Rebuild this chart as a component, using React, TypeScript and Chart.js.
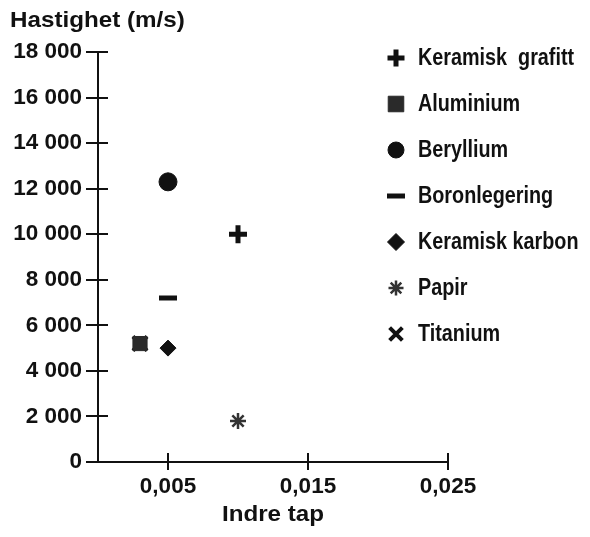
import React, { useEffect, useRef } from "react";
import { Chart, registerables } from "chart.js";
import { drawPoint } from "chart.js/helpers";

Chart.register(...registerables);

const materials = ["Keramisk  grafitt", "Aluminium", "Beryllium", "Boronlegering", "Keramisk karbon", "Papir", "Titanium"];
const lossValues = [0.01, 0.003, 0.005, 0.005, 0.005, 0.01, 0.003];
const speedValues = [10000, 5200, 12300, 7200, 5000, 1800, 5200];
const pointStyles = ["cross", "rect", "circle", "line", "rectRot", "star", "crossRot"];
const markerColors = ["#111111", "#2a2a2a", "#111111", "#111111", "#111111", "#333333", "#111111"];
const markerRadius = [9, 10, 9, 9, 8, 8, 10];
const markerBorder = [5, 1, 1, 5, 1, 2.5, 4];
const legendRadius = [8.5, 11, 8, 9, 8.5, 7.5, 9];
const xTickValues = [0.005, 0.015, 0.025];
const xTickLabels = ["0,005", "0,015", "0,025"];
const yTickValues = [0, 2000, 4000, 6000, 8000, 10000, 12000, 14000, 16000, 18000];
const yTitle = "Hastighet (m/s)";
const xTitle = "Indre tap";

const fmt = (v: number) =>
  v >= 1000 ? `${Math.floor(v / 1000)} ${String(v % 1000).padStart(3, "0")}` : String(v);

const AXIS_FONT = "'Liberation Sans', Arial, sans-serif";
const INK = "#111111";

const scaledText = (ctx: CanvasRenderingContext2D, text: string, x: number, y: number, sx: number) => {
  ctx.save();
  ctx.translate(x, y);
  ctx.scale(sx, 1);
  ctx.fillText(text, 0, 0);
  ctx.restore();
};

const decorPlugin = {
  id: "decor",
  afterDraw(chart: any) {
    const ctx = chart.ctx as CanvasRenderingContext2D;
    const area = chart.chartArea;
    const xs = chart.scales.x;
    const ys = chart.scales.y;
    ctx.save();
    // inner halves of crossing ticks
    ctx.strokeStyle = INK;
    ctx.lineWidth = 2;
    ctx.beginPath();
    yTickValues.forEach((v) => {
      const y = Math.round(ys.getPixelForValue(v));
      ctx.moveTo(area.left, y);
      ctx.lineTo(area.left + 10, y);
    });
    xTickValues.forEach((v) => {
      const x = Math.round(xs.getPixelForValue(v));
      ctx.moveTo(x, area.bottom);
      ctx.lineTo(x, area.bottom - 9);
    });
    ctx.stroke();

    // titles
    ctx.fillStyle = INK;
    ctx.font = `bold 22px ${AXIS_FONT}`;
    ctx.textAlign = "left";
    ctx.textBaseline = "alphabetic";
    scaledText(ctx, yTitle, 10, 19, 1.1);
    ctx.textAlign = "center";
    ctx.textBaseline = "middle";
    scaledText(ctx, xTitle, (area.left + area.right) / 2, 507, 1.1);

    // legend
    const lx = 396;
    const ly0 = 50;
    const step = 46;
    ctx.font = `bold 23px ${AXIS_FONT}`;
    ctx.textAlign = "left";
    ctx.textBaseline = "middle";
    materials.forEach((name, i) => {
      const y = ly0 + i * step;
      ctx.fillStyle = markerColors[i];
      ctx.strokeStyle = markerColors[i];
      ctx.lineWidth = markerBorder[i];
      drawPoint(ctx, {
        pointStyle: pointStyles[i] as any,
        radius: legendRadius[i],
        rotation: 0,
        borderWidth: markerBorder[i],
      } as any, lx, y);
      ctx.fillStyle = INK;
      scaledText(ctx, name, lx + 22, y + 1, 0.86);
    });
    ctx.restore();
  },
};

export default function App() {
  const ref = useRef<HTMLCanvasElement | null>(null);
  useEffect(() => {
    if (!ref.current) return;
    const datasets = materials.map((name, i) => ({
      label: name,
      data: [{ x: lossValues[i], y: speedValues[i] }],
      pointStyle: pointStyles[i],
      pointRadius: markerRadius[i],
      pointBorderWidth: markerBorder[i],
      backgroundColor: markerColors[i],
      borderColor: markerColors[i],
      showLine: false,
    }));
    const chart = new Chart(ref.current, {
      type: "scatter",
      data: { datasets: datasets as any },
      plugins: [decorPlugin],
      options: {
        responsive: false,
        animation: false,
        events: [],
        layout: { padding: { top: 44, right: 142, left: 0, bottom: 0 } },
        plugins: { legend: { display: false }, tooltip: { enabled: false }, title: { display: false } },
        scales: {
          x: {
            type: "linear",
            min: 0,
            max: 0.025,
            afterBuildTicks: (s: any) => {
              s.ticks = xTickValues.map((v) => ({ value: v }));
            },
            afterFit: (s: any) => {
              s.height = 67;
            },
            ticks: {
              callback: (_v: any, i: number) => xTickLabels[i],
              color: INK,
              font: { family: AXIS_FONT, size: 22.5, weight: "bold" },
              padding: 3,
              maxRotation: 0,
            },
            grid: { drawOnChartArea: false, tickLength: 8, color: INK, lineWidth: 2 },
            border: { color: INK, width: 2 },
          },
          y: {
            type: "linear",
            min: 0,
            max: 18000,
            afterBuildTicks: (s: any) => {
              s.ticks = yTickValues.map((v) => ({ value: v }));
            },
            afterFit: (s: any) => {
              s.width = 98;
            },
            ticks: {
              callback: (v: any) => fmt(Number(v)),
              color: INK,
              font: { family: AXIS_FONT, size: 22.5, weight: "bold" },
              padding: 4,
            },
            grid: { drawOnChartArea: false, tickLength: 12, color: INK, lineWidth: 2 },
            border: { color: INK, width: 2 },
          },
        },
      } as any,
    });
    return () => chart.destroy();
  }, []);
  return (
    <div style={{ marginLeft: -8, width: 590 }}>
      <canvas ref={ref} width={590} height={521} style={{ display: "block" }} />
    </div>
  );
}
